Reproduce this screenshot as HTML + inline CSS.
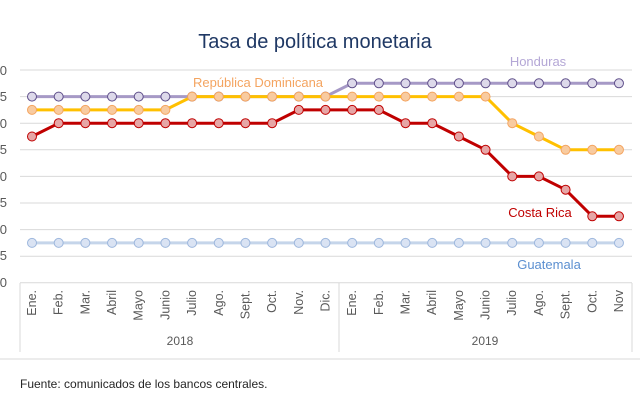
<!DOCTYPE html>
<html><head><meta charset="utf-8"><style>
html,body{margin:0;padding:0;background:#fff;}
svg{display:block;font-family:"Liberation Sans",sans-serif;}
</style></head><body>
<svg id="s" width="640" height="416" viewBox="0 0 640 416" xmlns="http://www.w3.org/2000/svg">
<text x="315" y="48" text-anchor="middle" font-size="20" fill="#1f3864">Tasa de política monetaria</text>
<g stroke="#d9d9d9" stroke-width="1">
<line x1="20" y1="70" x2="632" y2="70"/><line x1="20" y1="96.6" x2="632" y2="96.6"/>
<line x1="20" y1="123.2" x2="632" y2="123.2"/><line x1="20" y1="149.8" x2="632" y2="149.8"/>
<line x1="20" y1="176.4" x2="632" y2="176.4"/><line x1="20" y1="203" x2="632" y2="203"/>
<line x1="20" y1="229.6" x2="632" y2="229.6"/><line x1="20" y1="256.2" x2="632" y2="256.2"/>
<line x1="20" y1="282.8" x2="632" y2="282.8"/>
<line x1="20" y1="283" x2="20" y2="352"/><line x1="339" y1="283" x2="339" y2="352"/><line x1="632" y1="283" x2="632" y2="352"/>
<line x1="0" y1="359" x2="640" y2="359"/>
</g>
<g font-size="13" fill="#595959" text-anchor="end">
<text x="7" y="75">0</text><text x="7" y="101">5</text><text x="7" y="128">0</text><text x="7" y="154">5</text>
<text x="7" y="181">0</text><text x="7" y="207">5</text><text x="7" y="234">0</text><text x="7" y="260">5</text><text x="7" y="287">0</text>
</g>
<g id="months" font-size="12.5" fill="#595959"></g>
<text x="180" y="345" text-anchor="middle" font-size="12" fill="#595959">2018</text>
<text x="485" y="345" text-anchor="middle" font-size="12" fill="#595959">2019</text>
<g id="series"></g>
<text x="538" y="66" text-anchor="middle" font-size="13" fill="#b4a7d6">Honduras</text>
<text x="258" y="87" text-anchor="middle" font-size="13" fill="#f4a460">República Dominicana</text>
<text x="540" y="217" text-anchor="middle" font-size="13" fill="#c00000">Costa Rica</text>
<text x="549" y="269" text-anchor="middle" font-size="13" fill="#5b8fd0">Guatemala</text>
<text x="20" y="388" font-size="12" fill="#262626">Fuente: comunicados de los bancos centrales.</text>
</svg>
<script>
var NS="http://www.w3.org/2000/svg";
function X(i){return 32+26.68*i;}
var months=["Ene.","Feb.","Mar.","Abril","Mayo","Junio","Julio","Ago.","Sept.","Oct.","Nov.","Dic.","Ene.","Feb.","Mar.","Abril","Mayo","Junio","Julio","Ago.","Sept.","Oct.","Nov"];
var mg=document.getElementById("months");
months.forEach(function(m,i){var t=document.createElementNS(NS,"text");var x=X(i)+4;
t.setAttribute("transform","translate("+x+",290) rotate(-90)");t.setAttribute("text-anchor","end");t.textContent=m;mg.appendChild(t);});
function rep(v,n){var a=[];for(var i=0;i<n;i++)a.push(v);return a;}
var H=rep(96.6,12).concat(rep(83.3,11));
var R=rep(109.9,6).concat(rep(96.6,12)).concat([123.2,136.5,149.8,149.8,149.8]);
var C=[136.5].concat(rep(123.2,9)).concat(rep(109.9,4)).concat([123.2,123.2,136.5,149.8,176.4,176.4,189.7,216.3,216.3]);
var G=rep(242.9,23);
var S=[[G,"#c5d5ea","#dae3f3","#9db7dd"],[C,"#c00000","#e6a6a6","#c00000"],[H,"#a699c6","#ddd9ea","#5f4f8a"],[R,"#ffc000","#f8cba0","#f4a460"]];
var sg=document.getElementById("series");
S.forEach(function(s){var p=document.createElementNS(NS,"polyline");
p.setAttribute("points",s[0].map(function(y,i){return X(i)+","+y;}).join(" "));
p.setAttribute("fill","none");p.setAttribute("stroke",s[1]);p.setAttribute("stroke-width","3");sg.appendChild(p);
s[0].forEach(function(y,i){var c=document.createElementNS(NS,"circle");c.setAttribute("cx",X(i));c.setAttribute("cy",y);c.setAttribute("r","4.5");
c.setAttribute("fill",s[2]);c.setAttribute("stroke",s[3]);c.setAttribute("stroke-width","1");sg.appendChild(c);});});
</script>
</body></html>
